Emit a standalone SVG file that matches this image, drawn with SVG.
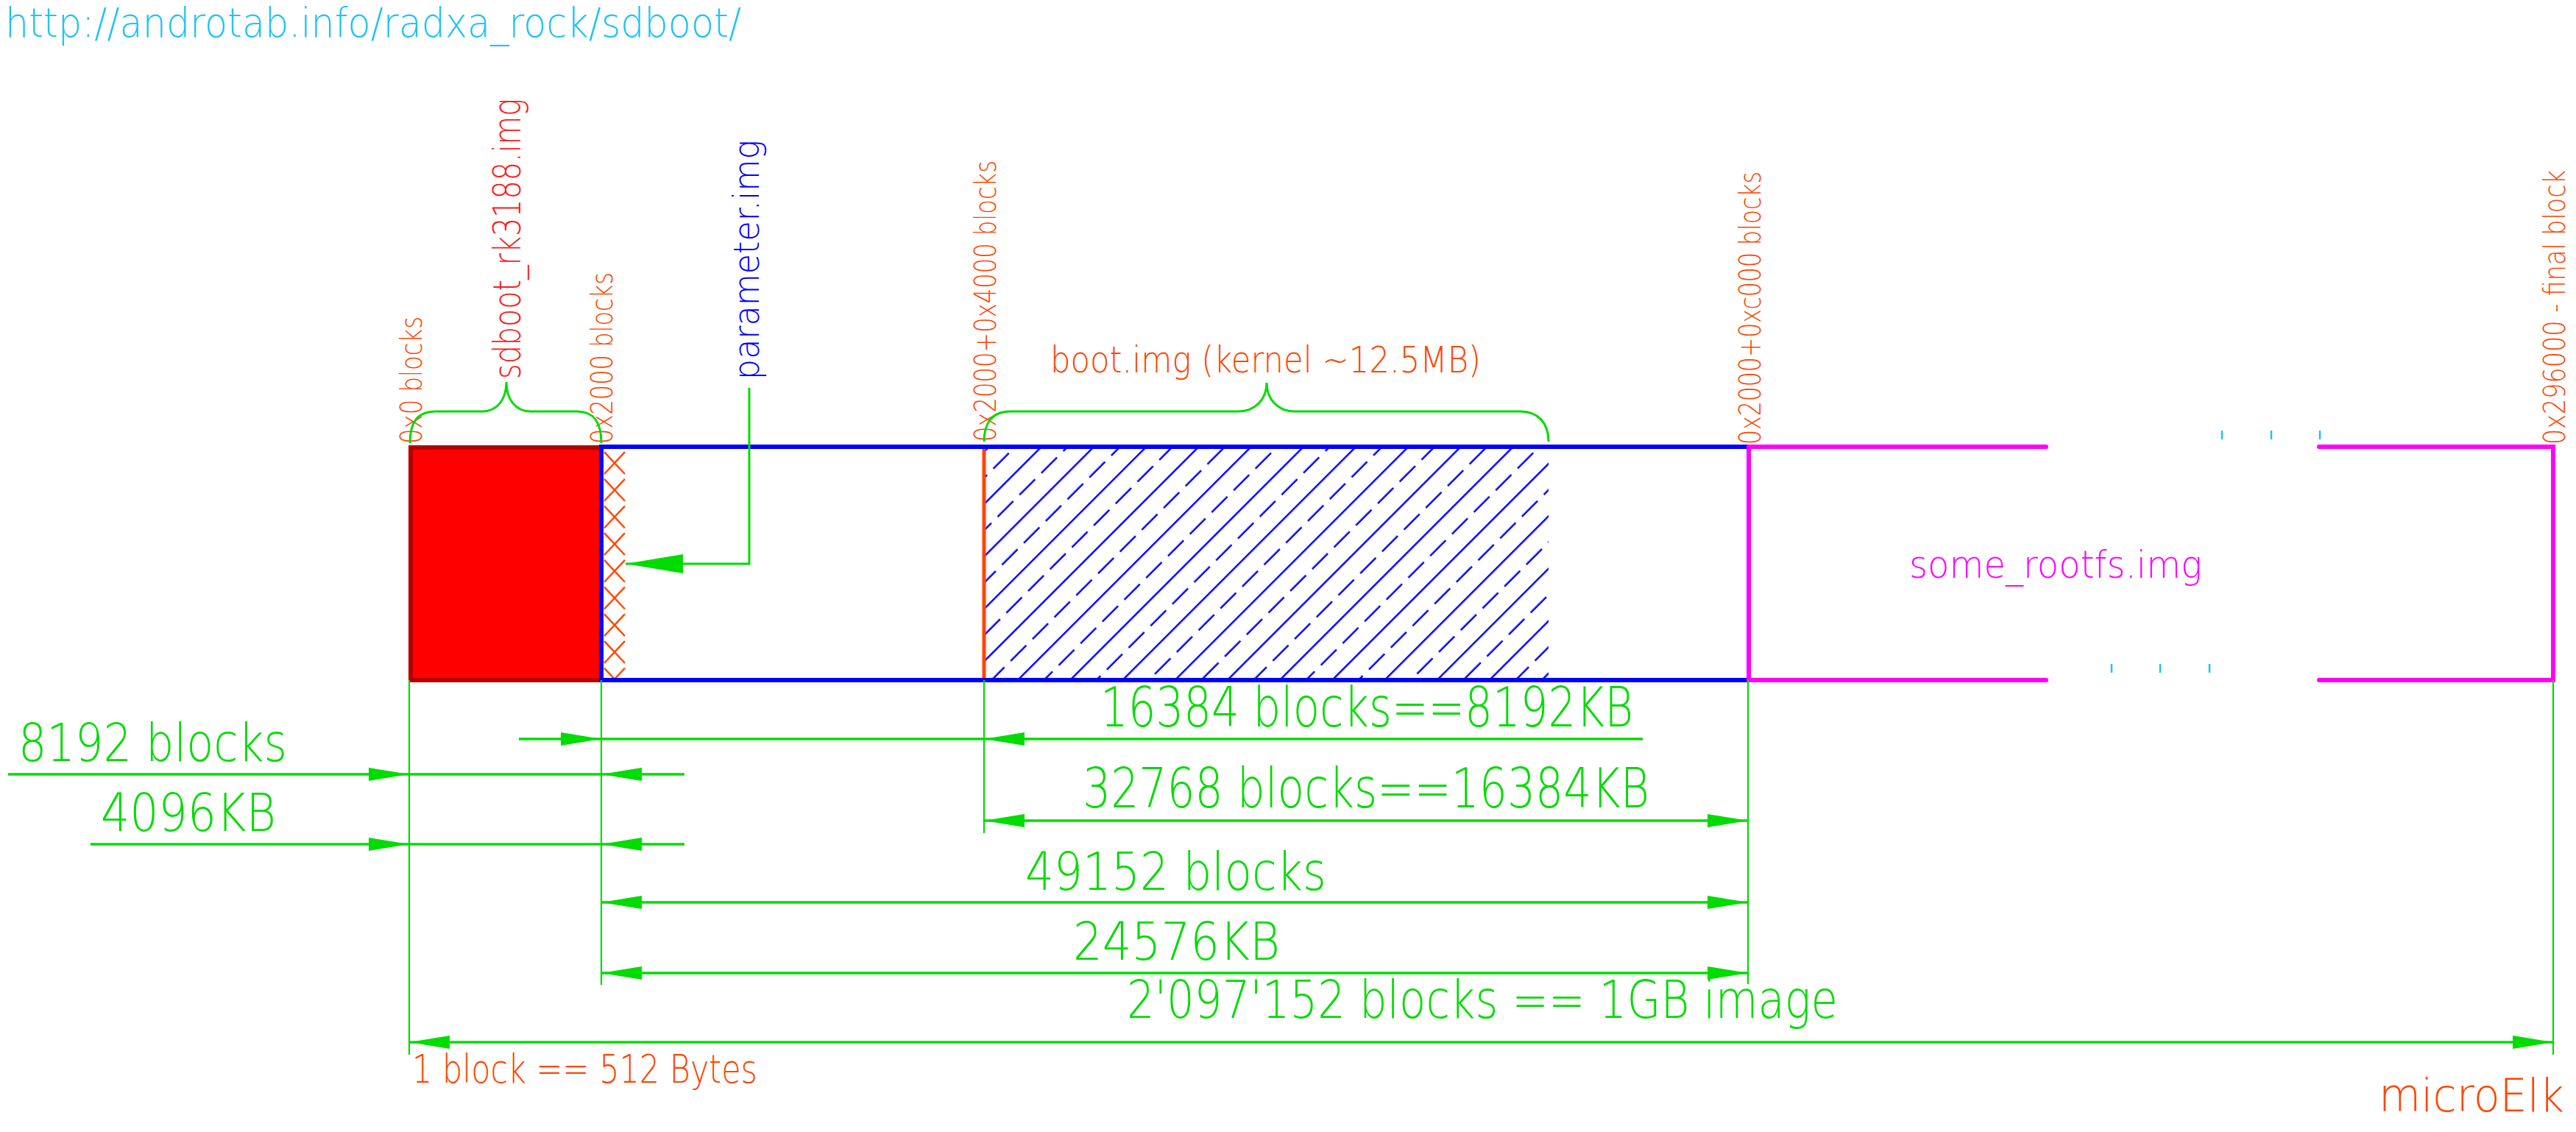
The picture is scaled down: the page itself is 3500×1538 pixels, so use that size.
<svg xmlns="http://www.w3.org/2000/svg" width="3500" height="1538" viewBox="0 0 3500 1538">
<defs>
<style>
text{font-family:"DejaVu Sans","Liberation Sans",Arial,sans-serif;font-weight:200;}
.g{fill:#00dc00}
.o{fill:#ff4500}
.dim{stroke:#00dc00;stroke-width:3.5;fill:none}
.ext{stroke:#00dc00;stroke-width:2.2;fill:none}
.brace{stroke:#00dc00;stroke-width:3;fill:none}
.a1{marker-end:url(#ah)}
.a2{marker-start:url(#ah);marker-end:url(#ah)}
.bl{stroke:#0000ff;stroke-width:6;fill:none}
.mg{stroke:#ff00ff;stroke-width:6;fill:none;stroke-linecap:round}
.cy{stroke:#1ec3f5;stroke-width:2.5}
</style>
<marker id="ah" markerUnits="userSpaceOnUse" viewBox="0 -10 56 20" markerWidth="56" markerHeight="20" refX="55" refY="0" orient="auto-start-reverse"><path d="M0,-9 L55,0 L0,9 z" fill="#00dc00"/></marker>
<marker id="ahL" markerUnits="userSpaceOnUse" viewBox="0 -14 79 28" markerWidth="79" markerHeight="28" refX="78" refY="0" orient="auto"><path d="M0,-13 L78,0 L0,13 z" fill="#00dc00"/></marker>
<pattern id="hatch" patternUnits="userSpaceOnUse" width="42" height="50.35" patternTransform="rotate(-45)">
<line x1="0" y1="20" x2="42" y2="20" stroke="#0000ff" stroke-width="2.5"/>
<line x1="0" y1="45.17" x2="30" y2="45.17" stroke="#0000ff" stroke-width="2.5"/>
</pattern>
<pattern id="xhatch" patternUnits="userSpaceOnUse" x="820" y="612" width="30" height="36.7">
<path d="M1,2 L29,32 M1,32 L29,2" stroke="#ff4500" stroke-width="2.5" fill="none"/>
</pattern>
</defs>
<rect width="3500" height="1538" fill="#ffffff"/>

<text x="7" y="50" font-size="56" fill="#1ec3f5" textLength="1000" lengthAdjust="spacingAndGlyphs">http://androtab.info/radxa_rock/sdboot/</text>

<g id="node-sdboot">
<rect x="558" y="608" width="259" height="316" fill="#ff0000" stroke="#b40000" stroke-width="6"/>
<text transform="translate(707,515) rotate(-90)" font-size="52" fill="#ff1a1a" textLength="381" lengthAdjust="spacingAndGlyphs">sdboot_rk3188.img</text>
</g>

<g id="node-parameter">
<rect x="820" y="611" width="30" height="311" fill="url(#xhatch)"/>
<text transform="translate(1031,516) rotate(-90)" font-size="48" fill="#0000ff" textLength="326" lengthAdjust="spacingAndGlyphs">parameter.img</text>
</g>

<g id="node-boot">
<rect x="1339" y="610" width="765" height="311" fill="url(#hatch)"/>
<line x1="1337" y1="607" x2="1337" y2="924" stroke="#ff4500" stroke-width="5"/>
<text x="1427" y="506" font-size="50" class="o" textLength="585" lengthAdjust="spacingAndGlyphs">boot.img (kernel ~12.5MB)</text>
</g>

<g id="bar">
<path class="bl" d="M817,607 V924 M814,607 H2376 M814,924 H2376"/>
</g>

<g id="node-rootfs">
<path class="mg" d="M2376,607 H2780 M2376,924 H2780 M3151,607 H3469 V924 H3151 M2376,607 V924"/>
<path class="cy" d="M3019,585 V597 M3086,585 V597 M3152,585 V597 M2869,902 V914 M2935,902 V914 M3002,902 V914"/>
<text x="2594" y="785" font-size="52" fill="#ff00ff" textLength="398" lengthAdjust="spacingAndGlyphs">some_rootfs.img</text>
</g>

<g id="offsets">
<text transform="translate(573,603) rotate(-90)" font-size="41" class="o" textLength="173" lengthAdjust="spacingAndGlyphs">0x0 blocks</text>
<text transform="translate(832,603) rotate(-90)" font-size="41" class="o" textLength="233" lengthAdjust="spacingAndGlyphs">0x2000 blocks</text>
<text transform="translate(1353,600) rotate(-90)" font-size="41" class="o" textLength="382" lengthAdjust="spacingAndGlyphs">0x2000+0x4000 blocks</text>
<text transform="translate(2392,604) rotate(-90)" font-size="40" class="o" textLength="371" lengthAdjust="spacingAndGlyphs">0x2000+0xc000 blocks</text>
<text transform="translate(3485,604) rotate(-90)" font-size="41" class="o" textLength="373" lengthAdjust="spacingAndGlyphs">0x296000 - final block</text>
</g>

<g id="connectors">
<path class="brace" d="M557,602 C557,575 566,559 592,559 L655,559 C676,559 688,542 688,519 C688,542 700,559 721,559 L784,559 C808,559 817,575 817,602"/>
<path class="brace" d="M1337,600 C1337,575 1348,559 1372,559 L1682,559 C1706,559 1721,542 1721,520 C1721,542 1736,559 1759,559 L2066,559 C2090,559 2104,575 2104,600"/>
<path d="M1018,527 V766 H850" stroke="#00dc00" stroke-width="3" fill="none" marker-end="url(#ahL)"/>
<path class="ext" d="M556,924 V1433 M817,924 V1338 M1337,924 V1132 M2375,924 V1337 M3469,924 V1433"/>
<line class="dim a1" x1="11" y1="1052" x2="556" y2="1052"/>
<line class="dim" x1="556" y1="1052" x2="817" y2="1052"/>
<line class="dim a1" x1="930" y1="1052" x2="817" y2="1052"/>
<line class="dim a1" x1="123" y1="1147" x2="556" y2="1147"/>
<line class="dim" x1="556" y1="1147" x2="817" y2="1147"/>
<line class="dim a1" x1="930" y1="1147" x2="817" y2="1147"/>
<line class="dim a1" x1="705" y1="1004" x2="817" y2="1004"/>
<line class="dim" x1="817" y1="1004" x2="1337" y2="1004"/>
<line class="dim a1" x1="2232" y1="1004" x2="1337" y2="1004"/>
<line class="dim a2" x1="1337" y1="1115" x2="2375" y2="1115"/>
<line class="dim a2" x1="817" y1="1226" x2="2375" y2="1226"/>
<line class="dim a2" x1="817" y1="1322" x2="2375" y2="1322"/>
<line class="dim a2" x1="556" y1="1416" x2="3469" y2="1416"/>
</g>

<g id="dim-labels">
<text x="25" y="1034" font-size="72" class="g" textLength="365" lengthAdjust="spacingAndGlyphs">8192 blocks</text>
<text x="137" y="1129" font-size="72" class="g" textLength="238" lengthAdjust="spacingAndGlyphs">4096KB</text>
<text x="1495" y="987" font-size="74" class="g" textLength="724" lengthAdjust="spacingAndGlyphs">16384 blocks==8192KB</text>
<text x="1471" y="1097" font-size="74" class="g" textLength="770" lengthAdjust="spacingAndGlyphs">32768 blocks==16384KB</text>
<text x="1393" y="1209" font-size="72" class="g" textLength="409" lengthAdjust="spacingAndGlyphs">49152 blocks</text>
<text x="1458" y="1304" font-size="72" class="g" textLength="281" lengthAdjust="spacingAndGlyphs">24576KB</text>
<text x="1531" y="1383" font-size="72" class="g" textLength="966" lengthAdjust="spacingAndGlyphs">2'097'152 blocks == 1GB image</text>
<text x="560" y="1471" font-size="53" class="o" textLength="469" lengthAdjust="spacingAndGlyphs">1 block == 512 Bytes</text>
<text x="3232" y="1510" font-size="62" class="o" textLength="252" lengthAdjust="spacingAndGlyphs">microElk</text>
</g>
</svg>
